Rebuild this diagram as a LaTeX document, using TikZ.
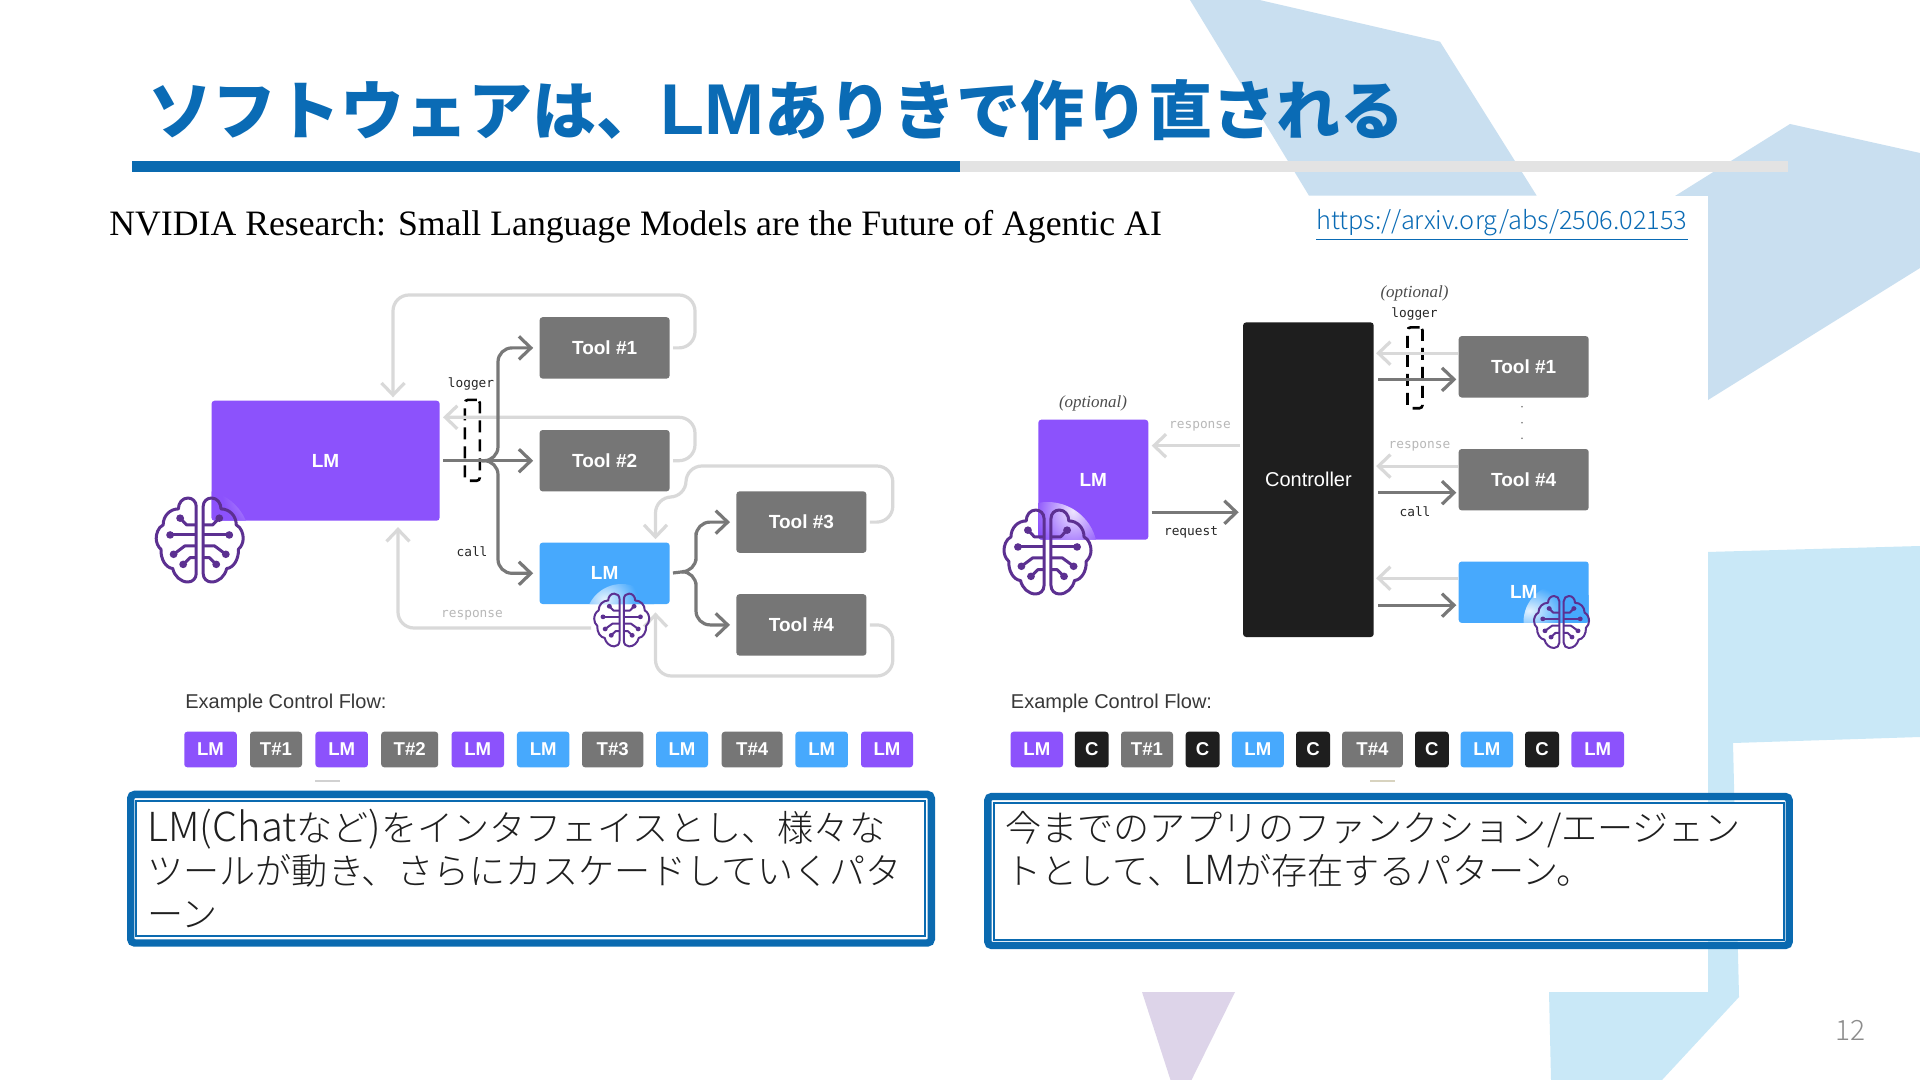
\documentclass[tikz,border=0pt]{standalone}
\usepackage{fontspec}
\setmainfont{Liberation Serif}
\setsansfont{Liberation Sans}
\setmonofont{DejaVu Sans Mono}
\newfontfamily\cjk{Noto Sans CJK JP}
\newfontfamily\cjklight{Noto Sans CJK JP Light}
\newcommand{\notelatin}[1]{{\fontsize{20}{21.6}\selectfont #1}}
\usetikzlibrary{arrows.meta, positioning}
\definecolor{titleblue}{RGB}{10, 107, 181}
\definecolor{barblue}{RGB}{10, 106, 176}
\definecolor{bargray}{RGB}{227, 227, 227}
\definecolor{shapeblue}{RGB}{201, 223, 240}
\definecolor{shapesky}{RGB}{201, 232, 247}
\definecolor{shapelilac}{RGB}{221, 212, 233}
\definecolor{lmpurple}{RGB}{140, 82, 252}
\definecolor{lmblue}{RGB}{71, 169, 253}
\definecolor{toolgray}{RGB}{118, 118, 118}
\definecolor{ctrlblack}{RGB}{30, 30, 30}
\definecolor{linedark}{RGB}{120, 120, 120}
\definecolor{linelight}{RGB}{217, 217, 217}
\definecolor{brainpurple}{RGB}{92, 48, 145}
\definecolor{tickbeige}{RGB}{216, 211, 191}
\pgfdeclareradialshading{glowpurple}{\pgfpointorigin}{color(0bp)=(white!85!lmpurple); color(12.5bp)=(lmpurple); color(50bp)=(lmpurple)}
\pgfdeclareradialshading{glowblue}{\pgfpointorigin}{color(0bp)=(white!85!lmblue); color(12.5bp)=(lmblue); color(50bp)=(lmblue)}
\tikzset{
  flowbox/.style={rectangle, rounded corners=1.5pt, fill=#1, text=white, inner sep=0pt},
  toolbox/.style={flowbox=toolgray, minimum width=65pt, minimum height=30.7pt,
              font=\sffamily\bfseries\fontsize{9.5}{11}\selectfont},
  lmbox/.style={flowbox=#1, font=\sffamily\bfseries\fontsize{9.5}{11}\selectfont},
  glow/.style n args={3}{path picture={\shade[shading=#3] (#1) circle (#2);}},
  chip/.style={flowbox=#1, minimum height=17.8pt,
              font=\sffamily\bfseries\fontsize{9.3}{11}\selectfont},
  monolabel/.style={font=\ttfamily\fontsize{6.4}{8}\selectfont, text=black!85, inner sep=0pt},
  responselabel/.style={monolabel, text=black!28},
  handlabel/.style={font=\rmfamily\itshape\fontsize{8.5}{10}\selectfont, text=black!70, inner sep=0pt},
  flowlabel/.style={anchor=west, font=\sffamily\fontsize{10}{12}\selectfont, text=black!78, inner sep=0pt},
  loggerbox/.style={rectangle, rounded corners=1.5pt, draw=black, line width=1.3pt,
              dash pattern=on 6pt off 3.5pt, minimum width=7.5pt, minimum height=40.4pt, inner sep=0pt},
  callarrow/.style={-{Straight Barb[length=6pt, width=11.5pt]}, line width=1.6pt, color=linedark,
              shorten <=1.5pt, shorten >=1pt},
  returnarrow/.style={-{Straight Barb[length=6pt, width=11.5pt]}, line width=1.6pt, color=linelight,
              shorten <=1.5pt, shorten >=1.5pt},
  outerbox/.style={rectangle, draw=barblue, line width=3.7pt, rounded corners=2pt, inner sep=0pt},
  notebox/.style={rectangle, draw=barblue, line width=1pt, fill=white, inner sep=0pt, align=left,
              text width=383pt, font=\cjklight\fontsize{18.05}{21.6}\selectfont, text=black!88},
  tickbar/.style={rectangle, minimum width=12.5pt, minimum height=1pt, inner sep=0pt, fill=#1},
  pics/brainicon/.style={code={
    \foreach \s in {1,-1} {
      \begin{scope}[xscale=\s, draw=brainpurple, fill=brainpurple, line join=round]
        \draw (.08,.8) .. controls (.08,.92) and (.17,1) .. (.27,1)
          .. controls (.4,1) and (.49,.88) .. (.49,.74)
          .. controls (.68,.74) and (.84,.58) .. (.84,.36)
          .. controls (.96,.3) and (1,.14) .. (1,.04)
          .. controls (1,-.06) and (.96,-.16) .. (.89,-.22)
          .. controls (.9,-.46) and (.78,-.66) .. (.62,-.68)
          .. controls (.58,-.86) and (.44,-1) .. (.27,-1)
          .. controls (.17,-1) and (.08,-.92) .. (.08,-.8) -- cycle;
        \draw (.08,.36) -- (.3,.36) -- (.45,.52);
        \draw (.08,.12) -- (.68,.12);
        \draw (.08,-.14) -- (.34,-.14) -- (.6,-.34);
        \draw (.08,-.42) -- (.22,-.42) -- (.38,-.58);
        \fill (.45,.52) circle[radius=.09];
        \fill (.68,.12) circle[radius=.09];
        \fill (.6,-.34) circle[radius=.09];
        \fill (.38,-.58) circle[radius=.09];
      \end{scope}
    }
  }},
}
\begin{document}
\begin{tikzpicture}[x=0.5pt, y=-0.5pt]
  \useasboundingbox (0,0) rectangle (1920,1080);
  \fill[white] (0,0) rectangle (1920,1080);

  \fill[shapeblue] (1190,0) -- (1259.5,0) -- (1440,41.7) -- (1536.7,195.7) -- (1309,195.7) -- cycle;
  \fill[shapeblue] (1790,124) -- (1920,153) -- (1920,268) -- (1708,400) -- (1675,196) -- cycle;
  \fill[shapesky] (1707,552) -- (1920,546) -- (1920,737) -- (1733,743) -- (1739,997) -- (1662,1080)
        -- (1551,1080) -- (1549,992) -- (1707,992) -- cycle;
  \fill[shapelilac] (1142,992) -- (1235,992) -- (1191.5,1080) -- (1170.5,1080) -- cycle;
  \fill[white] (0,195.7) rectangle (1708,992);

  \fill[bargray] (960,161) rectangle (1788,172.3);
  \fill[barblue] (132,161) rectangle (960,172.3);
  \node[anchor=west, inner sep=0pt, text=titleblue, font=\cjk\bfseries\fontsize{32}{38}\selectfont] (title)
        at (148,110) {ソフトウェアは、{\sffamily\fontsize{36}{38}\selectfont LM}ありきで作り直される};
  \node[anchor=west, inner sep=0pt, font=\rmfamily\fontsize{17.86}{22}\selectfont] (subtitle)
        at (109,227) {NVIDIA Research: Small Language Models are the Future of Agentic AI};
  \node[anchor=west, inner sep=0pt, text=titleblue, font=\cjklight\fontsize{12.67}{15}\selectfont] (link)
        at (1316,225) {\underline{https://arxiv.org/abs/2506.02153}};

  \coordinate (braina) at (199.7,540);
  \coordinate (brainb) at (621.7,620);
  \coordinate (brainc) at (1047.5,552);
  \coordinate (braind) at (1561.5,622);

  \node[lmbox=lmpurple, minimum width=114pt, minimum height=60pt, glow={braina}{25pt}{glowpurple}] (lma)
        at (325.6,460.7) {LM};
  \node[toolbox, right=49.6pt of lma] (toola2) {Tool \#2};
  \node[toolbox, above=25.3pt of toola2] (toola1) {Tool \#1};
  \node[lmbox=lmblue, minimum width=65pt, minimum height=30.7pt, below=25.2pt of toola2,
        glow={brainb}{18pt}{glowblue}] (lmb) {LM};
  \node[toolbox, right=33pt of lmb, yshift=25.6pt] (toola3) {Tool \#3};
  \node[toolbox, below=20.3pt of toola3] (toola4) {Tool \#4};
  \node[loggerbox] (loggera) at (472.3,440.3) {};

  \coordinate (topa1) at (695,295);
  \coordinate (topa2) at (393,295);
  \coordinate (topb) at (695,417.3);
  \coordinate (topc1) at (892.8,466);
  \coordinate (topc2) at (686,466);
  \coordinate (topc3) at (686,497);
  \coordinate (topc4) at (655.5,497);
  \coordinate (botc1) at (892.8,676);
  \coordinate (botc2) at (655.5,676);
  \coordinate (respa) at (594,628);
  \coordinate (respb) at (398,628);
  \coordinate (forka) at (484.6,460.7);
  \coordinate (forkb) at (683.6,571.7);

  \draw[returnarrow, rounded corners=8pt] (toola1.east) -| (topa1) -- (topa2) -- (topa2 |- lma.north);
  \draw[returnarrow, rounded corners=8pt] (toola2.east) -| (topb) -- (topb -| lma.east);
  \draw[returnarrow, rounded corners=8pt] (toola3.east) -| (topc1) -- (topc2) -- (topc3) -- (topc4) -- (topc4 |- lmb.north);
  \draw[returnarrow, rounded corners=8pt, shorten >=4pt] (toola4.east) -| (botc1) -- (botc2) -- (botc2 |- lmb.south);
  \draw[returnarrow, rounded corners=8pt, shorten >=3pt] (respa) -- (respb) -- (respb |- lma.south);

  \draw[callarrow, shorten >=3pt] (lma.east) -- (toola2.west);
  \draw[callarrow, rounded corners=7pt, shorten >=3pt] (forka) -| ++(13.4,-50) |- (toola1.west);
  \draw[callarrow, rounded corners=7pt, shorten >=3pt] (forka) -| ++(13.4,50) |- (lmb.west);
  \draw[callarrow, -, shorten >=0pt] (lmb.east) -- (forkb);
  \draw[callarrow, rounded corners=7pt, shorten <=0pt, shorten >=3pt] (forkb) -| ++(12.4,-25) |- (toola3.west);
  \draw[callarrow, rounded corners=7pt, shorten <=0pt, shorten >=3pt] (forkb) -| ++(12.4,25) |- (toola4.west);

  \node[monolabel] (loggerlabela) at (471,384) {logger};
  \node[monolabel] (calla) at (472,552) {call};
  \node[responselabel] (responsea) at (472,615.5) {response};

  \node[rectangle, rounded corners=1.5pt, fill=ctrlblack, text=white, minimum width=65.3pt, minimum height=157.3pt,
        inner sep=0pt, font=\sffamily\fontsize{10}{12}\selectfont] (ctrl) at (1308.4,479.7) {Controller};
  \node[lmbox=lmpurple, minimum width=55pt, minimum height=60pt, left=47pt of ctrl,
        glow={brainc}{25pt}{glowpurple}] (lmc) {LM};
  \node[toolbox, right=42.1pt of ctrl] (toolb4) {Tool \#4};
  \node[toolbox, above=25.35pt of toolb4] (toolb1) {Tool \#1};
  \node[lmbox=lmblue, minimum width=65pt, minimum height=30.7pt, below=25.15pt of toolb4,
        glow={braind}{19pt}{glowblue}] (lmd) {LM};
  \node[loggerbox] (loggerb) at (1415,367.8) {};
  \foreach \i/\ypos in {1/406.7, 2/422.7, 3/438.3} {
    \node[circle, fill=black!55, minimum size=0.9pt, inner sep=0pt] (dotb\i) at (1522,\ypos) {};
  }

  \draw[returnarrow] ([yshift=17pt]ctrl.west) -- ([yshift=17pt]ctrl.west -| lmc.east);
  \draw[callarrow, shorten >=2pt] ([yshift=-16.3pt]lmc.east) -- ([yshift=-16.3pt]lmc.east -| ctrl.west);
  \draw[returnarrow, shorten <=0pt, shorten >=1pt] ([yshift=6.8pt]toolb1.west) -- ([yshift=6.8pt]toolb1.west -| ctrl.east);
  \draw[callarrow, shorten <=2pt] ([yshift=-6.3pt]toolb1.west -| ctrl.east) -- ([yshift=-6.3pt]toolb1.west);
  \draw[returnarrow, shorten <=0pt, shorten >=1pt] ([yshift=6.8pt]toolb4.west) -- ([yshift=6.8pt]toolb4.west -| ctrl.east);
  \draw[callarrow, shorten <=2pt] ([yshift=-6.5pt]toolb4.west -| ctrl.east) -- ([yshift=-6.5pt]toolb4.west);
  \draw[returnarrow, shorten <=0pt, shorten >=1pt] ([yshift=7pt]lmd.west) -- ([yshift=7pt]lmd.west -| ctrl.east);
  \draw[callarrow, shorten <=2pt] ([yshift=-6.5pt]lmd.west -| ctrl.east) -- ([yshift=-6.5pt]lmd.west);

  \node[handlabel] (optionala) at (1093,403) {(optional)};
  \node[handlabel] (optionalb) at (1414.5,293) {(optional)};
  \node[monolabel] (loggerlabelb) at (1414.5,314) {logger};
  \node[responselabel] (responseb) at (1200,426) {response};
  \node[responselabel] (responsec) at (1419.4,446) {response};
  \node[monolabel] (requestb) at (1191,532.5) {request};
  \node[monolabel] (callb) at (1415,512) {call};

  \pic[x=21.75pt, y=21pt, line width=1.5pt] (brainlarge) at (braina) {brainicon};
  \pic[x=13.75pt, y=13.2pt, line width=1pt] (brainsmall) at (brainb) {brainicon};
  \pic[x=21.75pt, y=21pt, line width=1.5pt] (brainctrl) at (brainc) {brainicon};
  \pic[x=13.75pt, y=13pt, line width=1pt] (braintool) at (braind) {brainicon};

  \node[flowlabel] (flowa) at (185,703) {Example Control Flow:};
  \node[flowlabel] (flowb) at (1010.5,703) {Example Control Flow:};
  \foreach \i/\cx/\cw/\ctext/\ccolor in {1/210.5/52.5/LM/lmpurple, 2/276/52/T\#1/toolgray, 3/341.7/52.5/LM/lmpurple,
      4/409.7/57/T\#2/toolgray, 5/477.8/52.5/LM/lmpurple, 6/543.2/52.5/LM/lmblue, 7/612.7/61.4/T\#3/toolgray,
      8/682/52/LM/lmblue, 9/752.2/61/T\#4/toolgray, 10/821.7/52.5/LM/lmblue, 11/887/52/LM/lmpurple} {
    \node[chip=\ccolor, minimum width=\cw*0.5pt] (chipa\i) at (\cx,749.5) {\ctext};
  }
  \foreach \i/\cx/\cw/\ctext/\ccolor in {1/1036.8/52.5/LM/lmpurple, 2/1091.7/33.8/C/ctrlblack, 3/1147/52/T\#1/toolgray,
      4/1202.6/33.8/C/ctrlblack, 5/1257.8/52/LM/lmblue, 6/1313/34/C/ctrlblack, 7/1372.4/60.7/T\#4/toolgray,
      8/1431.9/33.7/C/ctrlblack, 9/1486.8/52.5/LM/lmblue, 10/1542/34/C/ctrlblack, 11/1597.7/52.6/LM/lmpurple} {
    \node[chip=\ccolor, minimum width=\cw*0.5pt] (chipb\i) at (\cx,749.5) {\ctext};
  }
  \node[tickbar=black!18] (ticka) at (327,780.7) {};
  \node[tickbar=tickbeige] (tickb) at (1382,780.7) {};

  \node[outerbox, minimum width=400.3pt, minimum height=74.3pt] (outera) at (531,868.7) {};
  \node[notebox, minimum width=394.5pt, minimum height=67.5pt] (notea) at (530.5,868.5)
        {\notelatin{LM(Chat}など\notelatin{)}をインタフェイスとし、様々な\\ツールが動き、さらにカスケードしていくパタ\\ーン};
  \node[outerbox, minimum width=400.7pt, minimum height=74.5pt] (outerb) at (1388.5,871) {};
  \node[notebox, minimum width=395pt, minimum height=68.5pt] (noteb) at (1388.5,871.3)
        {今までのアプリのファンクション/エージェン\\トとして、\notelatin{LM}が存在するパターン。\\[2pt]\mbox{}};

  \node[inner sep=0pt, text=black!45, font=\cjklight\fontsize{14}{16}\selectfont] (pagenum) at (1850,1030) {12};
\end{tikzpicture}
\end{document}
